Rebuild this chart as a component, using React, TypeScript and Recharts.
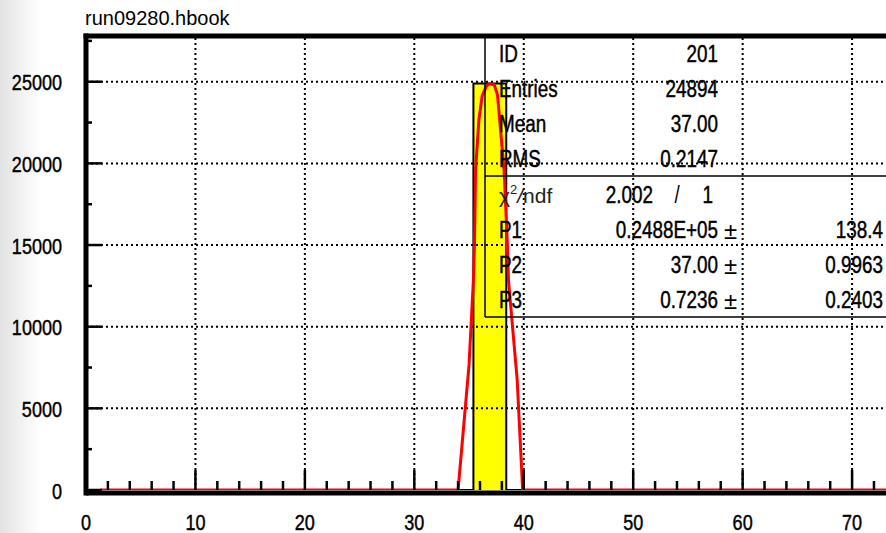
import { Area, ComposedChart, Line, ReferenceLine, XAxis, YAxis } from "recharts";

// histogram (bin edges + contents)
const histEdges = [0, 35.4, 38.4, 73.1];
const histCounts = [0, 24894, 0, 0];

// gaussian fit curve as drawn
const fitX = [1.3, 34.0, 35.0, 35.4, 35.5, 35.6, 35.9, 36.2, 36.6, 36.9, 37.3, 37.6, 37.8, 38.2, 38.5, 38.6, 39.4, 39.9, 73.1];
const fitY = [0, 0, 7660, 12870, 15130, 19610, 22670, 24140, 24750, 24880, 24810, 24200, 22670, 19610, 15130, 12870, 6740, 0, 0];

const xTicks = [0, 2, 4, 6, 8, 10, 12, 14, 16, 18, 20, 22, 24, 26, 28, 30, 32, 34, 36, 38, 40, 42, 44, 46, 48, 50, 52, 54, 56, 58, 60, 62, 64, 66, 68, 70, 72];
const yTicks = [0, 2500, 5000, 7500, 10000, 12500, 15000, 17500, 20000, 22500, 25000, 27500];
const xGrid = [10, 20, 30, 40, 50, 60, 70];
const yGrid = [5000, 10000, 15000, 20000, 25000];

const title = "run09280.hbook";
const statRows = [
  ["ID", "201"],
  ["Entries", "24894"],
  ["Mean", "37.00"],
  ["RMS", "0.2147"],
];
const chi2 = ["2.002", "1"];
const fitParams = [
  ["P1", "0.2488E+05", "138.4"],
  ["P2", "37.00", "0.9963"],
  ["P3", "0.7236", "0.2403"],
];

const histData = histEdges.map((x, i) => ({ x, y: histCounts[i] }));
const fitData = fitX.map((x, i) => ({ x, y: fitY[i] }));

const W = 886;
const H = 533;
const font = "'Liberation Sans', Arial, sans-serif";

// narrow, slightly heavy text like the PAW raster font
function T({ x, y, anchor = "start", size = 22, sx = 0.82, heavy = true, children }: any) {
  return (
    <text
      transform={`translate(${x},${y}) scale(${sx},1)`}
      textAnchor={anchor}
      fontSize={size}
      fontFamily={font}
      fill="#000"
      stroke={heavy ? "#000" : "none"}
      strokeWidth={heavy ? 0.45 : 0}
    >
      {children}
    </text>
  );
}

function XTick(props: any) {
  const { x, y, payload } = props;
  const v = payload.value;
  const major = v % 10 === 0;
  return (
    <g>
      <line x1={x} x2={x} y1={y} y2={y - (major ? 20 : 9)} stroke="#000" strokeWidth={2.5} />
      {major && (
        <T x={x} y={y + 40} anchor="middle">
          {v}
        </T>
      )}
    </g>
  );
}

function YTick(props: any) {
  const { x, y, payload } = props;
  const v = payload.value;
  const major = v % 5000 === 0;
  return (
    <g>
      <line x1={x} x2={x + (major ? 16 : 6)} y1={y} y2={y} stroke="#000" strokeWidth={2.5} />
      {major && (
        <T x={x - 24} y={y + 8.5} anchor="end">
          {v}
        </T>
      )}
    </g>
  );
}

function StatsBox() {
  const base = 62;
  const step = 35.14;
  return (
    <g>
      <line x1={485} x2={W} y1={176} y2={176} stroke="#000" strokeWidth={1.5} />
      <line x1={485} x2={W} y1={317} y2={317} stroke="#000" strokeWidth={1.5} />
      <line x1={485} x2={485} y1={36} y2={317} stroke="#000" strokeWidth={1.5} />
      {statRows.map(([k, v], i) => (
        <g key={k}>
          <T x={499} y={base + step * i} size={23}>{k}</T>
          <T x={718} y={base + step * i} size={23} anchor="end">{v}</T>
        </g>
      ))}
      <text x={499} y={base + step * 4} fontFamily={font} fontSize={21} fill="#222">
        χ<tspan dy={-9} fontSize={13}>2</tspan>
        <tspan dy={9} fontStyle="italic">/</tspan>
        <tspan>ndf</tspan>
      </text>
      <T x={653} y={base + step * 4} size={23} anchor="end">{chi2[0]}</T>
      <T x={677} y={base + step * 4} size={23} anchor="middle" heavy={false}>/</T>
      <T x={713} y={base + step * 4} size={23} anchor="end">{chi2[1]}</T>
      {fitParams.map(([k, v, e], i) => (
        <g key={k}>
          <T x={499} y={base + step * (5 + i)} size={23}>{k}</T>
          <T x={718} y={base + step * (5 + i)} size={23} anchor="end">{v}</T>
          <T x={724} y={base + step * (5 + i) + 1} size={24} sx={1} heavy={false}>±</T>
          <T x={883} y={base + step * (5 + i)} size={23} anchor="end">{e}</T>
        </g>
      ))}
    </g>
  );
}

export default function App() {
  return (
    <div style={{ position: "fixed", left: 0, top: 0, width: W, height: H, overflow: "hidden", background: "#fff" }}>
      <div style={{ position: "absolute", left: 0, top: 0, width: 40, height: H, background: "linear-gradient(to right, #e2e2e2, #f4f4f4 60%, #fff)" }} />
      <div style={{ position: "absolute", left: 0, top: 0 }}>
        <ComposedChart width={W} height={H} margin={{ top: 36, right: 0, bottom: 0, left: 0 }}>
          <XAxis
            type="number"
            dataKey="x"
            domain={[0, 73.1]}
            allowDataOverflow
            ticks={xTicks}
            interval={0}
            tickSize={0}
            tickMargin={0}
            height={43}
            tick={XTick}
            axisLine={{ stroke: "#000", strokeWidth: 5, transform: "translate(0,3)" } as any}
          />
          <YAxis
            type="number"
            dataKey="y"
            domain={[0, 27800]}
            allowDataOverflow
            ticks={yTicks}
            interval={0}
            tickSize={0}
            tickMargin={0}
            width={86}
            tick={YTick}
            axisLine={false}
          />
          <Area
            data={histData}
            dataKey="y"
            type="stepAfter"
            stroke="#000"
            strokeWidth={2}
            fill="#ffff00"
            fillOpacity={1}
            isAnimationActive={false}
          />
          {xGrid.map((v) => (
            <ReferenceLine key={"gx" + v} x={v} stroke="#000" strokeWidth={2} strokeDasharray="2 3" />
          ))}
          {yGrid.map((v) => (
            <ReferenceLine key={"gy" + v} y={v} stroke="#000" strokeWidth={2} strokeDasharray="2 3" />
          ))}
          <Line
            data={fitData}
            dataKey="y"
            type="linear"
            stroke="#ff0000"
            strokeWidth={3}
            dot={false}
            isAnimationActive={false}
          />
        </ComposedChart>
      </div>
      <svg width={W} height={H} style={{ position: "absolute", left: 0, top: 0 }}>
        <T x={85} y={25} size={20} sx={1} heavy={false}>{title}</T>
        <line x1={83.5} x2={W} y1={36} y2={36} stroke="#000" strokeWidth={5} />
        <line x1={86} x2={86} y1={33.5} y2={495.5} stroke="#000" strokeWidth={5} />
        <StatsBox />
      </svg>
    </div>
  );
}
